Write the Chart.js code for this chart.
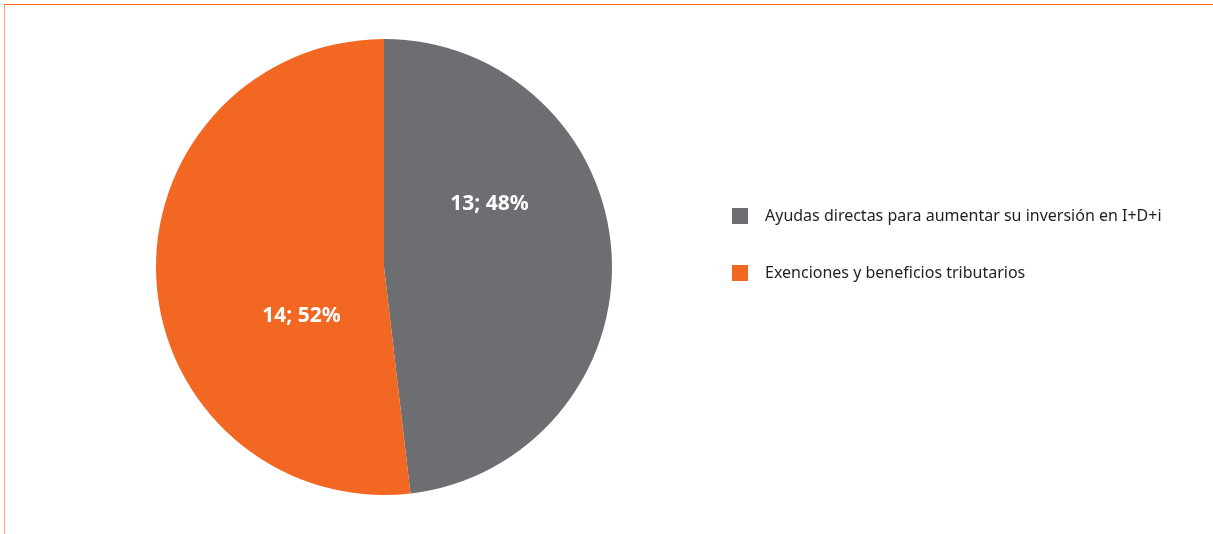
<!DOCTYPE html>
<html>
<head>
<meta charset="utf-8">
<script src="https://cdn.jsdelivr.net/npm/chart.js@4"></script>
<style>
    body { margin: 0; background: #fff; }
    #marco { position: absolute; left: 4px; top: 4px; right: 0; bottom: 0;
        border-top: 1.5px solid #f26722; border-left: 1.5px solid #f8a87f; }
    #contenedor { position: absolute; left: 0; top: 0; width: 1213px; height: 534px; }
</style>
</head>
<body>
<div id="marco"></div>
<div id="contenedor"><canvas id="grafico"></canvas></div>
<script>
const categorias = ['Ayudas directas para aumentar su inversión en I+D+i', 'Exenciones y beneficios tributarios'];
const valores = [13, 14];
const porcentajes = ['48%', '52%'];
const colores = ['#6d6e71', '#f26722'];

// posicion de las etiquetas: angulo (grados) y fraccion del radio
const anclas = [{ ang: -31, r: 0.54 }, { ang: 149.5, r: 0.42 }];

let etiquetasPlugin = {
    id: 'etiquetas',
    afterDatasetsDraw: (chart) => {
        let ctx = chart.ctx;
        let arcos = chart.getDatasetMeta(0).data;
        ctx.save();
        ctx.fillStyle = '#fff';
        ctx.font = 'bold 21px "Noto Sans"';
        ctx.textAlign = 'center';
        ctx.textBaseline = 'middle';
        arcos.forEach((arco, i) => {
            let a = anclas[i].ang * Math.PI / 180;
            let x = arco.x + Math.cos(a) * arco.outerRadius * anclas[i].r;
            let y = arco.y + Math.sin(a) * arco.outerRadius * anclas[i].r;
            ctx.fillText(valores[i] + '; ' + porcentajes[i], x, y);
        });
        ctx.restore();
    }
};

let leyendaPlugin = {
    id: 'leyenda',
    afterDraw: (chart) => {
        let ctx = chart.ctx;
        ctx.save();
        ctx.font = '16px "Noto Sans"';
        ctx.textBaseline = 'middle';
        categorias.forEach((cat, i) => {
            let y = 216 + i * 57;
            ctx.fillStyle = colores[i];
            ctx.fillRect(732, y - 8, 16, 16);
            ctx.fillStyle = '#231f20';
            ctx.fillText(cat, 765, y);
        });
        ctx.restore();
    }
};

new Chart(document.getElementById('grafico'), {
    type: 'pie',
    data: {
        labels: categorias,
        datasets: [{
            data: valores,
            backgroundColor: colores,
            borderWidth: 0
        }]
    },
    options: {
        responsive: true,
        maintainAspectRatio: false,
        animation: false,
        layout: { padding: { left: 156, right: 601, top: 39, bottom: 39 } },
        plugins: { legend: { display: false }, tooltip: { enabled: false } }
    },
    plugins: [etiquetasPlugin, leyendaPlugin]
});
</script>
</body>
</html>
